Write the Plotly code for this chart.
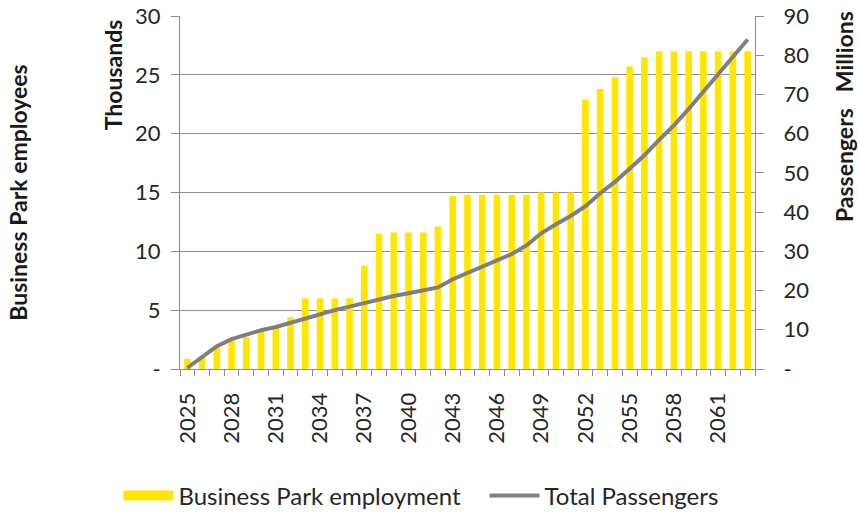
import plotly.graph_objects as go

years = list(range(2025, 2064))
employment_thousands = [0.85, 1.1, 1.8, 2.4, 2.7, 3.2, 3.5, 4.4, 6.0, 6.0,
                        6.0, 6.0, 8.8, 11.5, 11.6, 11.6, 11.6, 12.1, 14.7, 14.8,
                        14.8, 14.8, 14.8, 14.8, 15.0, 15.0, 15.0, 22.9, 23.8, 24.8,
                        25.7, 26.5, 27.0, 27.0, 27.0, 27.0, 27.0, 27.0, 27.0]
passengers_millions = [0.3, 3.1, 5.8, 7.6, 8.8, 9.9, 10.7, 11.8, 13.0, 14.0,
                       15.0, 15.9, 16.8, 17.8, 18.6, 19.3, 20.1, 20.8, 22.9, 24.5,
                       26.0, 27.5, 29.3, 31.5, 34.6, 36.9, 39.0, 41.5, 44.8, 47.7,
                       51.1, 54.5, 58.4, 62.1, 66.3, 70.7, 75.2, 79.6, 84.0]
x_label_years = years[::3]
left_ticks = [0, 5, 10, 15, 20, 25, 30]
left_ticktext = ["-", "5", "10", "15", "20", "25", "30"]
right_ticks = [0, 10, 20, 30, 40, 50, 60, 70, 80, 90]
right_ticktext = ["-", "10", "20", "30", "40", "50", "60", "70", "80", "90"]

YELLOW = "#FFE600"
GREY = "#7F7F7F"
AXIS = "#8C8C8C"
TXT = "#262626"
FONT = "Lato, 'Open Sans', sans-serif"

fig = go.Figure()
fig.add_trace(go.Bar(x=years, y=employment_thousands, marker=dict(color=YELLOW, line=dict(width=0)),
                     name="Business Park employment", showlegend=False, yaxis="y"))
# legend swatch for bars (wide rectangle like the original)
fig.add_trace(go.Scatter(x=[None], y=[None], mode="lines", line=dict(color=YELLOW, width=14),
                         name="Business Park employment", showlegend=True, legend="legend"))
fig.add_trace(go.Scatter(x=years, y=passengers_millions, mode="lines",
                         line=dict(color=GREY, width=4), name="Total Passengers", yaxis="y2",
                         showlegend=True, legend="legend2"))

legend_common = dict(orientation="h", xref="container", yref="container",
                     xanchor="left", y=1 - 496 / 518, yanchor="middle", itemwidth=50,
                     font=dict(size=24, color=TXT), bgcolor="rgba(0,0,0,0)")

fig.update_layout(
    width=858, height=518,
    margin=dict(l=180, r=103, t=16, b=149, autoexpand=False),
    paper_bgcolor="white", plot_bgcolor="white",
    font=dict(family=FONT, size=18, color=TXT),
    bargap=0.55,
    showlegend=True,
    legend=dict(x=0.138, **legend_common),
    legend2=dict(x=0.5647, **legend_common),
    xaxis=dict(range=[2024.5, 2063.5], tickmode="array", tickvals=x_label_years,
               ticktext=[str(y) for y in x_label_years], tickangle=-90, ticks="",
               showline=True, linecolor=AXIS, linewidth=1, showgrid=False, zeroline=False,
               tickfont=dict(size=22, color=TXT), ticklabelstandoff=14,
               minor=dict(tickmode="array", tickvals=[y - 0.5 for y in years] + [years[-1] + 0.5],
                          ticks="outside", ticklen=6, tickcolor=AXIS, showgrid=False)),
    yaxis=dict(range=[0, 30], tickmode="array", tickvals=left_ticks, ticktext=left_ticktext,
               ticks="outside", ticklen=8, tickcolor=AXIS, showline=True, linecolor=AXIS,
               showgrid=True, gridcolor="#8C8C8C", gridwidth=1, zeroline=False,
               tickfont=dict(size=22, color=TXT), ticklabelstandoff=6),
    yaxis2=dict(range=[0, 90], overlaying="y", side="right", tickmode="array",
                tickvals=right_ticks, ticktext=right_ticktext, ticks="outside", ticklen=8,
                tickcolor=AXIS, showline=True, linecolor=AXIS, showgrid=False, zeroline=False,
                tickfont=dict(size=22, color=TXT), ticklabelstandoff=15),
)

annots = [
    dict(text="<b>Business Park employees</b>", x=-0.283, y=0.5, textangle=-90),
    dict(text="<b>Thousands</b>", x=-0.116, y=0.833, textangle=-90),
    dict(text="<b>Millions</b>", x=1.155, y=0.898, textangle=-90),
    dict(text="<b>Passengers</b>", x=1.155, y=0.578, textangle=-90),
]
for a in annots:
    fig.add_annotation(xref="paper", yref="paper", showarrow=False, xanchor="center",
                       yanchor="middle", font=dict(size=23, color="#1A1A1A"), **a)

fig.write_html("out.html")
